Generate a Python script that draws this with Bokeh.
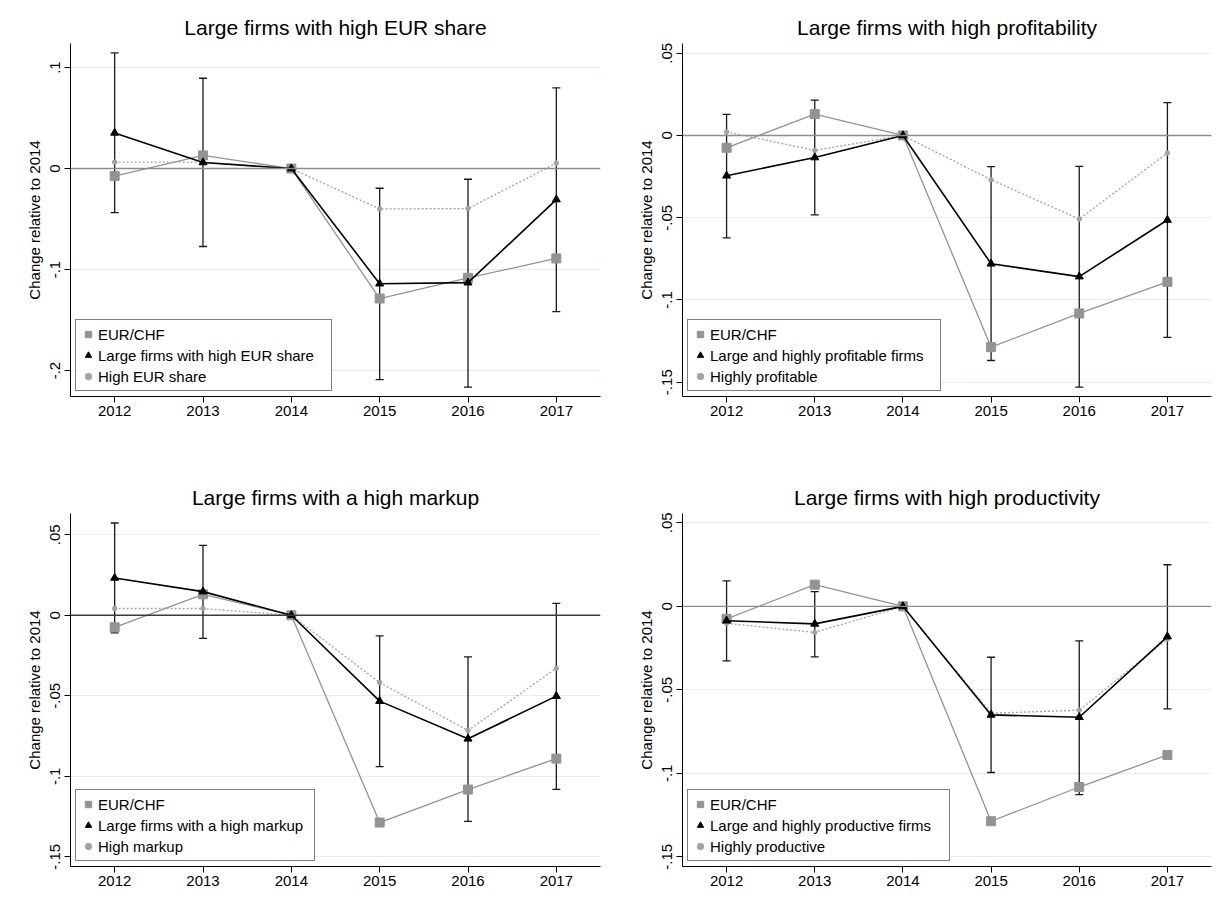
from bokeh.plotting import figure
from bokeh.models import Range1d, FixedTicker, Span, Legend, LegendItem
from bokeh.layouts import column, row
from bokeh.embed import file_html
from bokeh.resources import INLINE

# ---------------- data ----------------
years = [2012, 2013, 2014, 2015, 2016, 2017]
ci_years = [2012, 2013, 2015, 2016, 2017]
eurchf = [-0.0075, 0.0130, 0.0, -0.1287, -0.1082, -0.0890]

# Panel 1: high EUR share
eur_large = [0.0353, 0.0060, 0.0, -0.1140, -0.1130, -0.0307]
eur_lo = [-0.0436, -0.0772, -0.2090, -0.2165, -0.1416]
eur_hi = [0.1145, 0.0894, -0.0195, -0.0106, 0.0799]
eur_all = [0.0063, 0.0063, 0.0, -0.0400, -0.0396, 0.0053]

# Panel 2: high profitability
prof_large = [-0.0245, -0.0134, 0.0, -0.0780, -0.0858, -0.0514]
prof_lo = [-0.0623, -0.0483, -0.1368, -0.1530, -0.1228]
prof_hi = [0.0128, 0.0215, -0.0190, -0.0188, 0.0199]
prof_all = [0.0022, -0.0091, 0.0, -0.0269, -0.0508, -0.0107]

# Panel 3: high markup
mk_large = [0.0232, 0.0147, 0.0, -0.0533, -0.0767, -0.0502]
mk_lo = [-0.0109, -0.0143, -0.0940, -0.1280, -0.1081]
mk_hi = [0.0573, 0.0434, -0.0128, -0.0258, 0.0074]
mk_all = [0.0042, 0.0042, 0.0, -0.0418, -0.0715, -0.0329]

# Panel 4: high productivity
pr_large = [-0.0086, -0.0105, 0.0, -0.0650, -0.0664, -0.0181]
pr_lo = [-0.0327, -0.0303, -0.0995, -0.1128, -0.0614]
pr_hi = [0.0152, 0.0088, -0.0305, -0.0207, 0.0249]
pr_all = [-0.0102, -0.0156, 0.0, -0.0640, -0.0622, -0.0195]

titles = ["Large firms with high EUR share", "Large firms with high profitability",
          "Large firms with a high markup", "Large firms with high productivity"]
large_labels = ["Large firms with high EUR share", "Large and highly profitable firms",
                "Large firms with a high markup", "Large and highly productive firms"]
alt_labels = ["High EUR share", "Highly profitable", "High markup", "Highly productive"]
eur_label = "EUR/CHF"
y_label = "Change relative to 2014"

ticks_a = [-0.2, -0.1, 0.0, 0.1]
tick_labels_a = ["-.2", "-.1", "0", ".1"]
ticks_b = [-0.15, -0.1, -0.05, 0.0, 0.05]
tick_labels_b = ["-.15", "-.1", "-.05", "0", ".05"]

FONT = "Liberation Sans"
GRAY = "#939393"
DOT_GRAY = "#a3a3a3"


def make_panel(i, large, lo, hi, alt, yr, ticks, tick_labels, w, h, bl, br, bt, bb, lw, zero_color):
    p = figure(width=w, height=h, x_range=Range1d(2011.5, 2017.5), y_range=Range1d(*yr),
               output_backend="svg", toolbar_location=None,
               min_border_left=bl, min_border_right=br, min_border_top=bt, min_border_bottom=bb)
    p.outline_line_color = None
    p.background_fill_color = "white"
    p.border_fill_color = "white"

    p.title.text = titles[i]
    p.title.align = "center"
    p.title.text_font = FONT
    p.title.text_font_size = "21px"
    p.title.text_font_style = "normal"
    p.title.text_color = "black"

    p.xgrid.grid_line_color = None
    p.ygrid.grid_line_color = "#e3edef"
    p.ygrid.grid_line_width = 1

    p.xaxis.ticker = FixedTicker(ticks=years)
    p.yaxis.ticker = FixedTicker(ticks=ticks)
    p.yaxis.major_label_overrides = {t: s for t, s in zip(ticks, tick_labels)}
    p.yaxis.major_label_orientation = "vertical"
    p.yaxis.axis_label = y_label
    for ax in (p.xaxis, p.yaxis):
        ax.axis_line_color = "black"
        ax.axis_line_width = 1
        ax.major_tick_line_color = "black"
        ax.major_tick_out = 6
        ax.major_tick_in = 0
        ax.minor_tick_line_color = None
        ax.major_label_text_font = FONT
        ax.major_label_text_font_size = "15px"
        ax.major_label_text_color = "black"
        ax.axis_label_text_font = FONT
        ax.axis_label_text_font_size = "15px"
        ax.axis_label_text_font_style = "normal"
        ax.axis_label_text_color = "black"
    p.xaxis.major_label_standoff = 3
    p.yaxis.major_label_standoff = 4
    p.yaxis.axis_label_standoff = 5

    p.add_layout(Span(location=0, dimension="width", line_color=zero_color, line_width=1.4))

    # confidence intervals
    p.segment(x0=ci_years, y0=lo, x1=ci_years, y1=hi, line_color="#1a1a1a", line_width=1.3)
    p.scatter(x=ci_years, y=lo, marker="dash", size=8, line_color="#1a1a1a", line_width=1.3)
    p.scatter(x=ci_years, y=hi, marker="dash", size=8, line_color="#1a1a1a", line_width=1.3)

    # EUR/CHF
    p.line(years, eurchf, line_color=GRAY, line_width=1.3)
    r_eur = p.scatter(years, eurchf, marker="square", size=9, fill_color=GRAY, line_color=GRAY)

    # comparison group (dotted)
    p.line(years, alt, line_color=DOT_GRAY, line_width=1.3, line_dash="2 2")
    r_alt = p.scatter(years, alt, marker="circle", size=4.5, fill_color=DOT_GRAY, line_color=DOT_GRAY)

    # large firms
    p.line(years, large, line_color="black", line_width=1.6)
    r_large = p.scatter(years, large, marker="triangle", size=8, fill_color="black", line_color="black")

    legend = Legend(items=[LegendItem(label=eur_label, renderers=[r_eur]),
                           LegendItem(label=large_labels[i], renderers=[r_large]),
                           LegendItem(label=alt_labels[i], renderers=[r_alt])],
                    location=(5, 5))
    legend.border_line_color = "black"
    legend.border_line_width = 1
    legend.background_fill_color = "white"
    legend.background_fill_alpha = 1
    legend.label_text_font = FONT
    legend.label_text_font_size = "15px"
    legend.label_text_color = "black"
    legend.padding = 4
    legend.spacing = 1
    legend.glyph_width = 16
    legend.glyph_height = 20
    legend.label_height = 20
    legend.label_standoff = 2
    legend.label_width = lw
    legend.margin = 0
    p.add_layout(legend)
    return p


p1 = make_panel(0, eur_large, eur_lo, eur_hi, eur_all, (-0.2257, 0.1238), ticks_a, tick_labels_a,
                612, 463, 70, 12, 43, 67, 229, "#8c8c8c")
p2 = make_panel(1, prof_large, prof_lo, prof_hi, prof_all, (-0.1587, 0.0559), ticks_b, tick_labels_b,
                605, 463, 70, 6, 43, 67, 226, "#8c8c8c")
p3 = make_panel(2, mk_large, mk_lo, mk_hi, mk_all, (-0.1560, 0.0632), ticks_b, tick_labels_b,
                612, 434, 70, 12, 50, 31, 212, "#3a3a3a")
p4 = make_panel(3, pr_large, pr_lo, pr_hi, pr_all, (-0.1558, 0.0556), ticks_b, tick_labels_b,
                605, 434, 70, 6, 50, 31, 235, "#8c8c8c")

layout = column(row(p1, p2, spacing=0), row(p3, p4, spacing=0), spacing=0)
open("out.html", "w").write(file_html(layout, INLINE))
